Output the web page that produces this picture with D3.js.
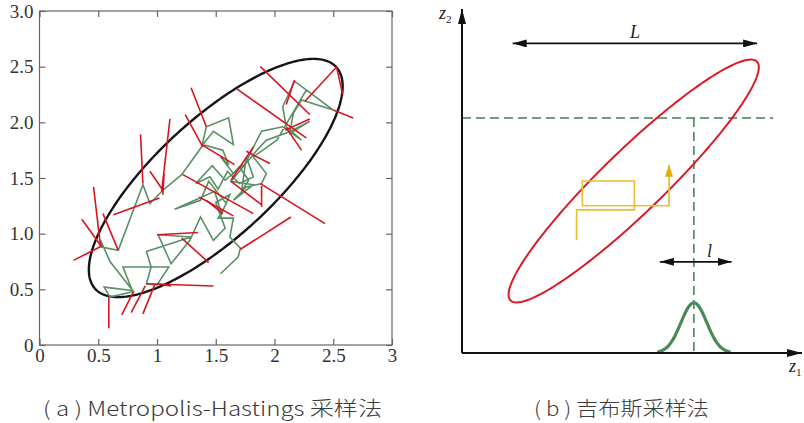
<!DOCTYPE html>
<html>
<head>
<meta charset="utf-8">
<script src="https://cdn.jsdelivr.net/npm/d3@7"></script>
<style>
  html, body { margin: 0; padding: 0; background: #fff; }
  svg { display: block; }
</style>
</head>
<body>
<svg id="chart" width="804" height="423"></svg>
<script>
// ---------- Panel (a): Metropolis-Hastings random walk ----------
const xTicksA = [0, 0.5, 1, 1.5, 2, 2.5, 3];
const xTickLabelsA = ["0", "0.5", "1", "1.5", "2", "2.5", "3"];
const yTicksA = [0, 0.5, 1, 1.5, 2, 2.5, 3];
const yTickLabelsA = ["0", "0.5", "1.0", "1.5", "2.0", "2.5", "3.0"];

// target density contour (centre, spreads, correlation)
const targetEllipse = { cx: 1.5, cy: 1.5, sx: 1.08, sy: 1.07, rho: 0.77 };

// accepted states of the chain
const chainX = [1.54, 1.69, 1.71, 1.62, 1.65, 1.52, 1.59, 1.44, 1.37, 1.15, 1.49, 1.55, 1.62, 1.50, 1.58,
  1.48, 1.37, 1.28, 1.12, 1.01, 1.29, 0.91, 0.95, 0.91, 1.00, 1.10, 0.71, 0.79, 0.55, 0.60,
  0.80, 0.60, 0.52, 0.53, 0.67, 0.88, 0.94, 1.05, 1.21, 1.38, 1.42, 1.61, 1.65, 1.48, 1.39,
  1.56, 1.61, 1.54, 1.65, 1.70, 1.78, 1.72, 1.76, 1.82, 1.70, 1.60, 1.52, 1.45, 1.33, 1.47,
  1.58, 1.75, 1.89, 2.07, 2.23, 2.10, 2.07, 2.17,
  2.31, 2.50, 2.23, 2.16, 2.13, 2.30, 2.14, 1.93, 1.85, 1.71, 1.63, 1.82, 1.65, 1.76, 1.89,
  1.93, 1.82, 2.02, 2.22, 2.27];
const chainY = [0.64, 0.79, 0.87, 0.97, 1.14, 1.14, 1.27, 1.47, 1.30, 1.22, 1.38, 1.18, 1.35, 1.28, 1.05,
  0.94, 1.15, 0.94, 0.73, 0.99, 0.97, 0.84, 0.70, 0.55, 0.54, 0.70, 0.70, 0.49, 0.52, 0.43,
  0.48, 0.75, 0.94, 0.88, 0.85, 1.44, 1.27, 1.39, 1.53, 1.78, 1.96, 2.04, 1.80, 1.92, 1.80,
  1.75, 1.62, 1.69, 1.54, 1.60, 1.48, 1.38, 1.69, 1.51, 1.45, 1.56, 1.40, 1.51, 1.45, 1.61,
  1.48, 1.63, 1.92, 1.96, 1.84, 1.96, 2.14, 2.37,
  2.26, 2.11, 2.20, 2.08, 1.90, 2.01, 1.92, 1.84, 1.75, 1.57, 1.47, 1.44, 1.30, 1.42, 1.45,
  1.54, 1.69, 1.84, 2.20, 2.29];

// rejected proposals: [fromX, fromY, toX, toY]
const rejected = [
  [0.29, 0.76, 0.53, 0.89], [0.36, 1.13, 0.53, 0.88], [0.46, 1.42, 0.52, 0.88],
  [0.54, 1.18, 0.67, 0.85], [0.63, 1.17, 1.02, 1.32], [0.59, 0.43, 0.59, 0.15],
  [0.70, 0.27, 0.80, 0.48], [0.78, 0.29, 0.90, 0.53], [0.88, 0.28, 0.98, 0.54],
  [0.91, 0.55, 1.48, 0.53], [1.00, 0.55, 1.12, 0.53], [1.00, 0.99, 1.35, 1.01],
  [1.21, 0.96, 1.44, 0.74], [1.71, 0.86, 2.14, 1.15], [0.86, 1.89, 0.88, 1.45],
  [1.11, 2.03, 1.04, 1.38], [0.94, 1.56, 1.05, 1.39], [1.06, 1.54, 1.05, 1.35],
  [1.29, 2.31, 1.42, 1.96], [1.24, 2.07, 1.39, 1.78], [1.88, 2.50, 2.30, 2.07],
  [1.68, 2.30, 2.27, 1.86], [2.53, 2.50, 2.26, 2.19], [2.17, 2.38, 2.10, 2.16],
  [2.09, 1.93, 2.30, 2.03], [2.10, 1.95, 2.23, 1.75], [2.50, 2.11, 2.67, 2.04],
  [2.53, 2.49, 2.58, 2.25], [1.38, 1.80, 1.66, 1.62], [1.76, 1.74, 1.96, 1.63],
  [1.82, 1.78, 1.63, 1.48], [1.63, 1.47, 1.89, 1.26], [1.89, 1.43, 1.89, 1.24],
  [1.88, 1.45, 2.43, 1.09], [1.22, 1.53, 1.82, 1.18], [1.36, 1.33, 1.65, 1.16],
  [1.42, 1.30, 1.56, 1.18]
];

// ---------- Panel (b): Gibbs sampling schematic (units 0-100) ----------
const gibbsEllipse = { cx: 50.5, cy: 50, sx: 36.8, sy: 35.3, rho: 0.936 };
const gibbsStepsX = [33.7, 33.7, 50.7, 50.7, 35.4, 35.4, 60.9, 60.9];
const gibbsStepsY = [32.8, 41.6, 41.6, 50.0, 50.0, 42.8, 42.8, 54.7];
const bigSpan = { from: 14.9, to: 86.8, at: 90 };       // L
const smallSpan = { from: 58.2, to: 79.3, at: 26.5 };   // l
const conditionalZ1 = 68.2, conditionalZ2 = 68.3, guideEnd = 91.5;
const conditional = { mean: 68.2, sd: 3.8, peak: 14.6, from: 57.4, to: 79.0 };

const captionA = "( a ) Metropolis-Hastings 采样法";
const captionB = "( b ) 吉布斯采样法";

// ---------- drawing ----------
const svg = d3.select("#chart");
const serif = "Liberation Serif";

function ellipsePoints(e, n = 240) {
  const k = Math.sqrt(1 - e.rho * e.rho);
  return d3.range(n).map(i => {
    const t = 2 * Math.PI * i / n;
    return [e.cx + e.sx * Math.cos(t), e.cy + e.sy * (e.rho * Math.cos(t) + k * Math.sin(t))];
  });
}

// Panel (a)
const xA = d3.scaleLinear().domain([0, 3]).range([39.5, 392]);
const yA = d3.scaleLinear().domain([0, 3]).range([345, 11]);
const gA = svg.append("g");

gA.append("rect")
  .attr("x", xA(0)).attr("y", yA(3))
  .attr("width", xA(3) - xA(0)).attr("height", yA(0) - yA(3))
  .attr("fill", "none").attr("stroke", "#666").attr("stroke-width", 1.2);

function styleAxis(sel) {
  sel.attr("font-family", serif).attr("font-size", 19);
  sel.select(".domain").remove();
  sel.selectAll(".tick line").attr("stroke", "#666").attr("stroke-width", 1.2);
  sel.selectAll(".tick text").attr("fill", "#333")
    .attr("font-family", serif).attr("font-size", 19);
}
gA.append("g").attr("transform", `translate(0,${yA(0)})`)
  .call(d3.axisBottom(xA).tickValues(xTicksA).tickFormat((d, i) => xTickLabelsA[i])
    .tickSize(-6).tickPadding(4))
  .call(styleAxis);
gA.append("g").attr("transform", `translate(${xA(0)},0)`)
  .call(d3.axisLeft(yA).tickValues(yTicksA).tickFormat((d, i) => yTickLabelsA[i])
    .tickSize(-6).tickPadding(6))
  .call(styleAxis);
gA.append("g").attr("transform", `translate(0,${yA(3)})`)
  .call(d3.axisTop(xA).tickValues(xTicksA).tickFormat("").tickSize(-6))
  .call(styleAxis);
gA.append("g").attr("transform", `translate(${xA(3)},0)`)
  .call(d3.axisRight(yA).tickValues(yTicksA).tickFormat("").tickSize(-6))
  .call(styleAxis);

const lineA = d3.line().x(d => xA(d[0])).y(d => yA(d[1]));

gA.append("path")
  .attr("d", d3.line().x(d => xA(d[0])).y(d => yA(d[1])).curve(d3.curveLinearClosed)(ellipsePoints(targetEllipse)))
  .attr("fill", "none").attr("stroke", "#151515").attr("stroke-width", 2.4);

gA.append("path")
  .attr("d", lineA(chainX.map((x, i) => [x, chainY[i]])))
  .attr("fill", "none").attr("stroke", "#5a8f66").attr("stroke-width", 1.6)
  .attr("stroke-linejoin", "miter");

gA.append("g").selectAll("line").data(rejected).join("line")
  .attr("x1", d => xA(d[0])).attr("y1", d => yA(d[1]))
  .attr("x2", d => xA(d[2])).attr("y2", d => yA(d[3]))
  .attr("stroke", "#d8141f").attr("stroke-width", 1.6);

// Panel (b)
const xB = d3.scaleLinear().domain([0, 100]).range([462, 802]);
const yB = d3.scaleLinear().domain([0, 100]).range([353, 9]);
const gB = svg.append("g");

const defs = svg.append("defs");
function marker(id, len, wid, color) {
  defs.append("marker").attr("id", id)
    .attr("viewBox", `0 0 ${len} ${wid}`)
    .attr("refX", len).attr("refY", wid / 2)
    .attr("markerUnits", "userSpaceOnUse")
    .attr("markerWidth", len).attr("markerHeight", wid)
    .attr("orient", "auto-start-reverse")
    .append("path").attr("d", `M0,0L${len},${wid / 2}L0,${wid}Z`).attr("fill", color);
}
marker("headAxis", 15, 8, "#111");
marker("headSpan", 14, 8, "#111");
marker("headStep", 12, 8, "#e6ad00");

// conditional guides
gB.append("line")
  .attr("x1", xB(0)).attr("x2", xB(guideEnd)).attr("y1", yB(conditionalZ2)).attr("y2", yB(conditionalZ2))
  .attr("stroke", "#3f7d57").attr("stroke-width", 1.5).attr("stroke-dasharray", "9,5");
gB.append("line")
  .attr("x1", xB(conditionalZ1)).attr("x2", xB(conditionalZ1)).attr("y1", yB(conditionalZ2)).attr("y2", yB(0))
  .attr("stroke", "#3f7d57").attr("stroke-width", 1.5).attr("stroke-dasharray", "9,5");

// correlated target
gB.append("path")
  .attr("d", d3.line().x(d => xB(d[0])).y(d => yB(d[1])).curve(d3.curveLinearClosed)(ellipsePoints(gibbsEllipse)))
  .attr("fill", "none").attr("stroke", "#dc1a26").attr("stroke-width", 2);

// Gibbs steps
gB.append("path")
  .attr("d", d3.line().x(d => xB(d[0])).y(d => yB(d[1]))(gibbsStepsX.map((x, i) => [x, gibbsStepsY[i]])))
  .attr("fill", "none").attr("stroke", "#ebbf35").attr("stroke-width", 1.7)
  .attr("marker-end", "url(#headStep)");

// conditional density
const condPts = d3.range(0, 101).map(i => {
  const z = conditional.from + (conditional.to - conditional.from) * i / 100;
  return [z, conditional.peak * Math.exp(-0.5 * ((z - conditional.mean) / conditional.sd) ** 2)];
});
gB.append("path")
  .attr("d", d3.line().x(d => xB(d[0])).y(d => yB(d[1])).curve(d3.curveBasis)(condPts))
  .attr("fill", "none").attr("stroke", "#4a8a5a").attr("stroke-width", 3.2);

// axes
gB.append("line").attr("x1", xB(0)).attr("y1", yB(0)).attr("x2", xB(0)).attr("y2", yB(100))
  .attr("stroke", "#111").attr("stroke-width", 2).attr("marker-end", "url(#headAxis)");
gB.append("line").attr("x1", xB(0)).attr("y1", yB(0)).attr("x2", xB(100)).attr("y2", yB(0))
  .attr("stroke", "#111").attr("stroke-width", 2).attr("marker-end", "url(#headAxis)");

// span arrows
[bigSpan, smallSpan].forEach(s => {
  gB.append("line").attr("x1", xB(s.from)).attr("x2", xB(s.to)).attr("y1", yB(s.at)).attr("y2", yB(s.at))
    .attr("stroke", "#111").attr("stroke-width", 1.8)
    .attr("marker-start", "url(#headSpan)").attr("marker-end", "url(#headSpan)");
});

function italicLabel(x, y, main, sub, size) {
  const t = gB.append("text").attr("x", x).attr("y", y)
    .attr("font-family", serif).attr("font-style", "italic").attr("font-size", size)
    .attr("fill", "#222");
  t.append("tspan").text(main);
  if (sub) t.append("tspan").attr("dy", 4).attr("font-size", size * 0.62)
    .attr("font-style", "normal").text(sub);
  return t;
}
italicLabel(439, 19, "z", "2", 18);
italicLabel(789, 372, "z", "1", 18);
italicLabel(xB((bigSpan.from + bigSpan.to) / 2) - 5, yB(bigSpan.at) - 5, "L", null, 18);
italicLabel(xB(conditionalZ1) + 13, yB(smallSpan.at) - 5, "l", null, 18);

// captions
const capFont = "'Noto Sans CJK SC', 'Noto Sans', sans-serif";
svg.append("text").attr("x", 43).attr("y", 416)
  .attr("textLength", 339).attr("lengthAdjust", "spacingAndGlyphs")
  .style("font-family", capFont).style("font-size", "20px").style("font-weight", 300)
  .attr("fill", "#3a3a3a").text(captionA);
svg.append("text").attr("x", 534).attr("y", 416)
  .attr("textLength", 175).attr("lengthAdjust", "spacingAndGlyphs")
  .style("font-family", capFont).style("font-size", "20px").style("font-weight", 300)
  .attr("fill", "#3a3a3a").text(captionB);
</script>
</body>
</html>
